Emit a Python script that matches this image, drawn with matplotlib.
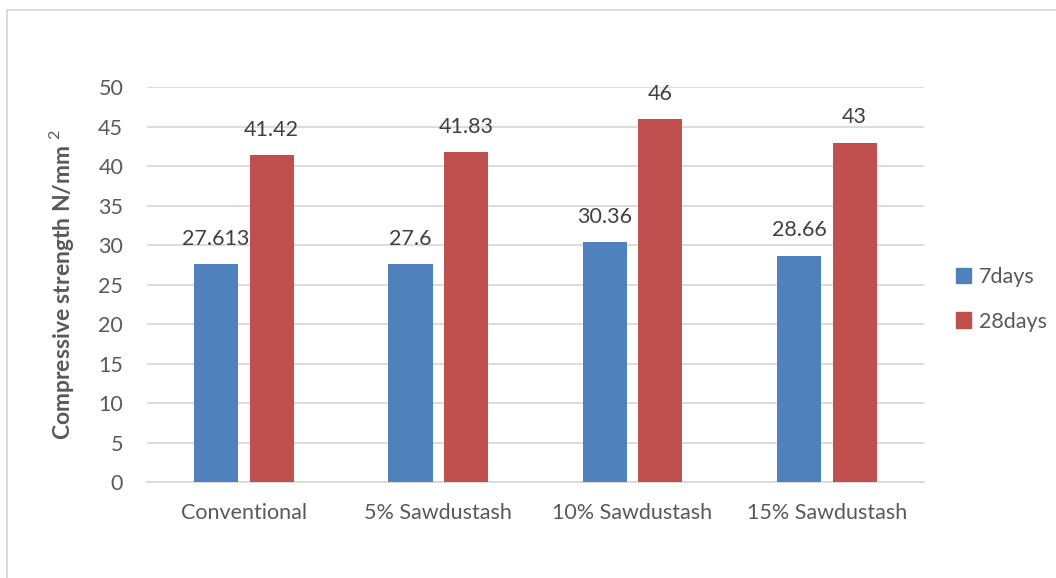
import matplotlib
matplotlib.use("Agg")
import matplotlib.pyplot as plt
from matplotlib.lines import Line2D
from matplotlib.patches import Patch
import numpy as np

categories = ["Conventional", "5% Sawdustash", "10% Sawdustash", "15% Sawdustash"]
days7 = [27.613, 27.6, 30.36, 28.66]
days28 = [41.42, 41.83, 46, 43]
labels7 = ["27.613", "27.6", "30.36", "28.66"]
labels28 = ["41.42", "41.83", "46", "43"]
series_names = ["7days", "28days"]
yticks = [0, 5, 10, 15, 20, 25, 30, 35, 40, 45, 50]

plt.rcParams['font.family'] = ['Lato', 'DejaVu Sans']
plt.rcParams['mathtext.fontset'] = 'custom'
plt.rcParams['mathtext.rm'] = 'Lato'
plt.rcParams['mathtext.bf'] = 'Lato:bold'

txt = '#595959'
grid = '#D9D9D9'
blue = '#4F81BD'
red = '#C0504D'
fs = 15.5

fig = plt.figure(figsize=(10.56, 5.78), dpi=100)
ax = fig.add_axes([0.139, 0.166, 0.736, 0.683])

x = np.arange(len(categories))
w = 0.227
off = 0.143
b1 = ax.bar(x - off, days7, w, color=blue, zorder=3)
b2 = ax.bar(x + off, days28, w, color=red, zorder=3)

for rects, labs in ((b1, labels7), (b2, labels28)):
    for r, l in zip(rects, labs):
        ax.annotate(l, (r.get_x() + r.get_width() / 2, r.get_height()),
                    xytext=(0, 11), textcoords='offset points',
                    ha='center', va='bottom', fontsize=fs, color='#404040')

ax.set_xlim(-0.5, len(categories) - 0.5)
ax.set_ylim(0, 50)
ax.set_yticks(yticks)
ax.set_xticks(x)
ax.set_xticklabels(categories)
ax.tick_params(axis='both', length=0, labelsize=fs, colors=txt)
ax.tick_params(axis='y', pad=17)
ax.tick_params(axis='x', pad=15)
ax.yaxis.grid(True, color=grid, linewidth=1.3, zorder=0)
for s in ['left', 'right', 'top']:
    ax.spines[s].set_visible(False)
ax.spines['bottom'].set_color(grid)
ax.spines['bottom'].set_linewidth(1.3)

ax.set_ylabel(r'Compressive strength N/mm $^{2}$', fontsize=16.5, fontweight='bold',
              color=txt, labelpad=16)

handles = [Patch(color=blue), Patch(color=red)]
fig.legend(handles, series_names, loc='upper left', bbox_to_anchor=(0.887, 0.572),
           frameon=False, fontsize=fs, labelcolor=txt, handlelength=0.7,
           handleheight=0.7, handletextpad=0.35, labelspacing=1.15)

# chart border (top and left edges visible)
fig.add_artist(Line2D([0.0066, 1.0], [1 - 10 / 578, 1 - 10 / 578], color=grid,
                      linewidth=1.3, transform=fig.transFigure))
fig.add_artist(Line2D([7 / 1056, 7 / 1056], [0, 1 - 10 / 578], color=grid,
                      linewidth=1.3, transform=fig.transFigure))

fig.savefig('out.png', dpi=100)
